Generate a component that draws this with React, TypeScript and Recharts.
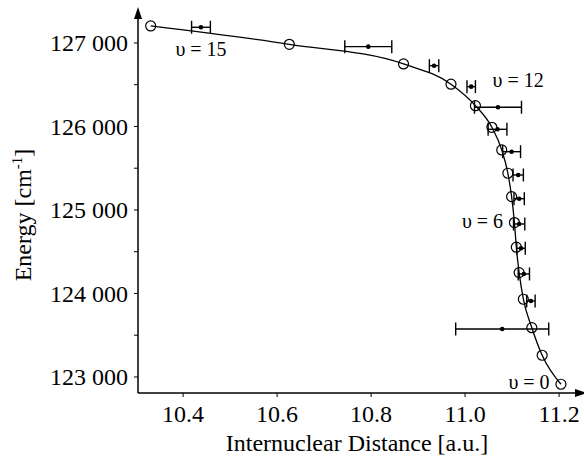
import { ComposedChart, Line, Scatter, ErrorBar, XAxis, YAxis, ReferenceDot } from 'recharts';

// vibrational levels, top of the well first
const fitLevels = [15, 14, 13, 12, 11, 10, 9, 8, 7, 6, 5, 4, 3, 2, 1, 0];
const fitR = [10.331, 10.626, 10.869, 10.970, 11.022, 11.057, 11.078, 11.091, 11.099, 11.105, 11.109, 11.115, 11.124, 11.142, 11.164, 11.204];
const fitE = [127204, 126984, 126749, 126506, 126249, 125990, 125719, 125440, 125160, 124849, 124554, 124250, 123931, 123590, 123260, 122913];

// measured turning points with error in R
const measLevels = [15, 14, 13, 12, 11, 10, 9, 8, 7, 6, 5, 4, 3, 2];
const measR = [10.438, 10.794, 10.934, 11.013, 11.070, 11.069, 11.099, 11.113, 11.115, 11.115, 11.119, 11.125, 11.140, 11.079];
const measE = [127188, 126956, 126728, 126477, 126230, 125966, 125698, 125419, 125135, 124832, 124541, 124234, 123910, 123575];
const measErr = [0.020, 0.050, 0.010, 0.009, 0.050, 0.020, 0.019, 0.011, 0.011, 0.012, 0.009, 0.012, 0.009, 0.099];

const xTicks = [10.4, 10.6, 10.8, 11.0, 11.2];
const yTicks = [123000, 123500, 124000, 124500, 125000, 125500, 126000, 126500, 127000];

const levelLabels = [
  { text: 'υ = 15', r: 10.438, e: 126928 },
  { text: 'υ = 12', r: 11.113, e: 126557 },
  { text: 'υ = 6', r: 11.037, e: 124868 },
  { text: 'υ = 0', r: 11.136, e: 122940 },
];

const fitData = fitLevels.map((v, i) => ({ v, x: fitR[i], e: fitE[i] }));
const measData = measLevels.map((v, i) => ({ v, x: measR[i], e: measE[i], err: measErr[i] }));

const FONT = '"Liberation Serif", "Times New Roman", serif';

const YTitle = () => (
  <text
    x={31}
    y={215}
    transform="rotate(-90, 31, 215)"
    textAnchor="middle"
    fontFamily={FONT}
    fontSize={24}
    fill="#000"
  >
    Energy [cm<tspan dy={-9} fontSize={15}>-1</tspan>
    <tspan dy={9}>]</tspan>
  </text>
);

const App = () => {
  return (
    <div style={{ position: 'absolute', left: 0, top: 0, background: '#fff', fontFamily: FONT }}>
      <ComposedChart
        width={584}
        height={457}
        margin={{ top: 18, right: 8, left: 38, bottom: 0 }}
        style={{ fontFamily: FONT }}
      >
        <defs>
          <marker
            id="axisArrow"
            markerWidth={12}
            markerHeight={8}
            refX={1}
            refY={4}
            orient="auto-start-reverse"
            markerUnits="userSpaceOnUse"
          >
            <path d="M0,0 L12,4 L0,8 z" fill="#000" />
          </marker>
        </defs>
        <XAxis
          type="number"
          dataKey="x"
          domain={[10.304, 11.236]}
          ticks={xTicks}
          tickFormatter={(v: number) => v.toFixed(1)}
          height={64}
          tickSize={4}
          tickMargin={8}
          axisLine={{ stroke: '#000', strokeWidth: 1.5, markerEnd: 'url(#axisArrow)' }}
          tickLine={{ stroke: '#000' }}
          tick={{ fill: '#000', fontSize: 24, fontFamily: FONT }}
          label={{
            value: 'Internuclear Distance [a.u.]',
            position: 'insideBottom',
            offset: 6,
            fill: '#000',
            fontSize: 24,
            fontFamily: FONT,
          }}
        />
        <YAxis
          type="number"
          dataKey="e"
          domain={[122808, 127299]}
          ticks={yTicks}
          tickFormatter={(v: number) => (v % 1000 === 0 ? `${Math.round(v / 1000)} 000` : '')}
          width={100}
          tickSize={4}
          tickMargin={6}
          axisLine={{ stroke: '#000', strokeWidth: 1.5, markerStart: 'url(#axisArrow)' }}
          tickLine={{ stroke: '#000' }}
          tick={{ fill: '#000', fontSize: 24, fontFamily: FONT }}
          label={{ content: () => <YTitle /> }}
        />
        <Line
          data={fitData}
          dataKey="e"
          type="monotone"
          stroke="#000"
          strokeWidth={1.3}
          dot={{ r: 5, stroke: '#000', strokeWidth: 1.2, fill: 'none' }}
          isAnimationActive={false}
        />
        <Scatter
          data={measData}
          dataKey="e"
          isAnimationActive={false}
          shape={(p: any) => <circle cx={p.cx} cy={p.cy} r={2.3} fill="#000" />}
        >
          <ErrorBar dataKey="err" direction="x" width={6.5} stroke="#000" strokeWidth={1.4} />
        </Scatter>
        {levelLabels.map((l) => (
          <ReferenceDot
            key={l.text}
            x={l.r}
            y={l.e}
            r={0}
            fill="none"
            stroke="none"
            label={{ value: l.text, position: 'center', fill: '#000', fontSize: 20, fontFamily: FONT }}
          />
        ))}
      </ComposedChart>
    </div>
  );
};

export default App;
